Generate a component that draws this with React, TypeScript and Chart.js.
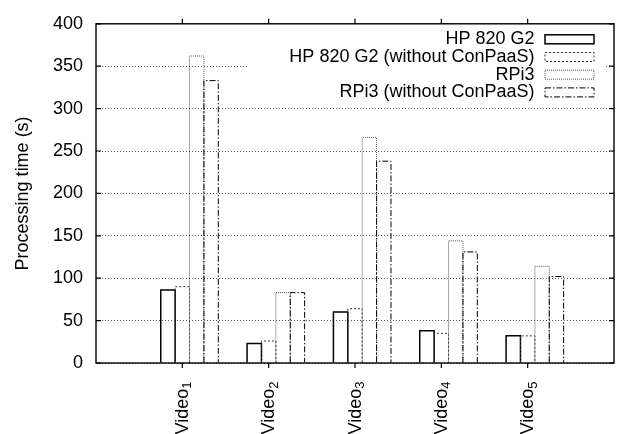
import React, { useEffect, useRef } from 'react';
import { Chart, registerables } from 'chart.js';

Chart.register(...registerables);

const CATEGORIES = ['Video1', 'Video2', 'Video3', 'Video4', 'Video5'];
const SERIES_LABELS = [
  'HP 820 G2',
  'HP 820 G2 (without ConPaaS)',
  'RPi3',
  'RPi3 (without ConPaaS)',
];
const HP_820 = [86, 23, 60, 38, 32];
const HP_820_NO_CONPAAS = [90, 26, 64, 35, 32];
const RPI3 = [362, 83, 266, 144, 114];
const RPI3_NO_CONPAAS = [333, 83, 238, 131, 102];
const Y_TICKS = [0, 50, 100, 150, 200, 250, 300, 350, 400];

const SERIES_VALUES = [HP_820, HP_820_NO_CONPAAS, RPI3, RPI3_NO_CONPAAS];

const FONT_FAMILY = "'Liberation Sans', Arial, Helvetica, sans-serif";
const FONT_SIZE = 18;
const SUB_SIZE = 13;

const SERIES_STYLE = [
  { color: '#000000', width: 1.5, dash: [] as number[] },
  { color: '#333333', width: 1, dash: [2, 2] },
  { color: '#555555', width: 1, dash: [1, 1] },
  { color: '#000000', width: 1, dash: [6, 2, 1.5, 2] },
];

const outlinePlugin = {
  id: 'gnuplotLook',
  beforeDatasetsDraw(chart: any) {
    const ctx = chart.ctx;
    const { right, top } = chart.chartArea;
    ctx.save();
    ctx.font = `${FONT_SIZE}px ${FONT_FAMILY}`;
    let maxW = 0;
    SERIES_LABELS.forEach((l) => {
      maxW = Math.max(maxW, ctx.measureText(l).width);
    });
    const textRight = right - 79.5;
    const bgLeft = textRight - maxW - 42;
    ctx.fillStyle = '#ffffff';
    ctx.fillRect(bgLeft, top + 3, right - 10 - bgLeft, 76);
    ctx.restore();
  },
  afterDatasetsDraw(chart: any) {
    const ctx = chart.ctx;
    const { left, right, top, bottom } = chart.chartArea;
    // bar outlines
    chart.data.datasets.forEach((_ds: any, i: number) => {
      const meta = chart.getDatasetMeta(i);
      const st = SERIES_STYLE[i];
      ctx.save();
      ctx.strokeStyle = st.color;
      ctx.lineWidth = st.width;
      ctx.setLineDash(st.dash);
      meta.data.forEach((el: any) => {
        const p = el.getProps(['x', 'y', 'base', 'width'], true);
        const l = p.x - p.width / 2;
        const r = p.x + p.width / 2;
        ctx.beginPath();
        ctx.moveTo(l, p.base);
        ctx.lineTo(l, p.y);
        ctx.lineTo(r, p.y);
        ctx.lineTo(r, p.base);
        ctx.stroke();
      });
      ctx.restore();
    });

    // legend
    ctx.save();
    ctx.font = `${FONT_SIZE}px ${FONT_FAMILY}`;
    ctx.textAlign = 'right';
    ctx.textBaseline = 'middle';
    const textRight = right - 79.5;
    const boxL = right - 69;
    const boxR = right - 20;
    SERIES_LABELS.forEach((label, i) => {
      const cy = top + 15.5 + i * 17.7;
      ctx.fillStyle = '#000';
      ctx.fillText(label, textRight, cy);
      const st = SERIES_STYLE[i];
      ctx.strokeStyle = st.color;
      ctx.lineWidth = st.width;
      ctx.setLineDash(st.dash);
      ctx.strokeRect(boxL, cy - 4.5, boxR - boxL, 9);
    });
    ctx.restore();

    // frame and tick marks
    ctx.save();
    ctx.strokeStyle = '#000';
    ctx.lineWidth = 1.4;
    ctx.setLineDash([]);
    ctx.strokeRect(left, top, right - left, bottom - top);
    ctx.lineWidth = 1.2;
    const ys = chart.scales.y;
    ys.ticks.forEach((t: any) => {
      const py = ys.getPixelForValue(t.value);
      ctx.beginPath();
      ctx.moveTo(left, py);
      ctx.lineTo(left + 5, py);
      ctx.moveTo(right - 5, py);
      ctx.lineTo(right, py);
      ctx.stroke();
    });
    const xs = chart.scales.x;
    xs.ticks.forEach((t: any, i: number) => {
      const px = xs.getPixelForValue(t.value);
      ctx.beginPath();
      ctx.moveTo(px, bottom);
      ctx.lineTo(px, bottom + 5);
      ctx.moveTo(px, top - 5);
      ctx.lineTo(px, top);
      ctx.stroke();

      // rotated category label with a real subscript
      const label = CATEGORIES[i] ?? '';
      const m = label.match(/^(.*?)(\d+)$/);
      const main = m ? m[1] : label;
      const sub = m ? m[2] : '';
      ctx.save();
      ctx.translate(px, bottom + 18.5);
      ctx.rotate(-Math.PI / 2);
      ctx.fillStyle = '#000';
      ctx.textAlign = 'right';
      ctx.textBaseline = 'alphabetic';
      ctx.font = `${SUB_SIZE}px ${FONT_FAMILY}`;
      const subW = sub ? ctx.measureText(sub).width : 0;
      if (sub) ctx.fillText(sub, 0, 9);
      ctx.font = `${FONT_SIZE}px ${FONT_FAMILY}`;
      ctx.fillText(main, -subW, 5.5);
      ctx.restore();
    });
    ctx.restore();
  },
};

export default function App() {
  const canvasRef = useRef<HTMLCanvasElement | null>(null);

  useEffect(() => {
    if (!canvasRef.current) return;
    Chart.defaults.font.family = FONT_FAMILY;
    Chart.defaults.color = '#000';

    const datasets = SERIES_VALUES.map((vals, j) => ({
      label: SERIES_LABELS[j],
      data: vals.map((v, i) => ({ x: i + 1 + (j - 1) / 6, y: v })),
      backgroundColor: 'rgba(0,0,0,0)',
      borderWidth: 0,
    }));

    const chart = new Chart(canvasRef.current, {
      type: 'bar',
      data: { datasets },
      plugins: [outlinePlugin],
      options: {
        animation: false,
        responsive: false,
        maintainAspectRatio: false,
        layout: { padding: { top: 14, right: 7, left: 0, bottom: 0 } },
        datasets: {
          bar: { grouped: false, barPercentage: 1, categoryPercentage: 1 },
        } as any,
        plugins: {
          legend: { display: false },
          tooltip: { enabled: false },
        },
        scales: {
          x: {
            type: 'linear',
            offset: false,
            min: 0,
            max: 6,
            afterBuildTicks: (s: any) => {
              s.ticks = CATEGORIES.map((_c, i) => ({ value: i + 1 }));
            },
            afterFit: (s: any) => {
              s.height = 71;
            },
            grid: { display: false, drawTicks: false, offset: false },
            border: { display: false },
            ticks: { display: false, autoSkip: false },
          },
          y: {
            min: 0,
            max: 400,
            afterBuildTicks: (s: any) => {
              s.ticks = Y_TICKS.map((v) => ({ value: v }));
            },
            afterFit: (s: any) => {
              s.width = 96;
            },
            grid: { color: '#555', lineWidth: 1, drawTicks: false },
            border: { display: false, dash: [1, 2] },
            ticks: {
              padding: 13,
              color: '#000',
              font: { size: FONT_SIZE },
            },
            title: {
              display: true,
              text: 'Processing time (s)',
              color: '#000',
              font: { size: FONT_SIZE },
              padding: { top: 12, bottom: 0 },
            },
          },
        } as any,
      },
    });
    return () => chart.destroy();
  }, []);

  return (
    <div
      style={{
        position: 'fixed',
        left: 0,
        top: 0,
        width: 621,
        height: 434,
        background: '#fff',
      }}
    >
      <canvas ref={canvasRef} width={621} height={434} style={{ display: 'block' }} />
    </div>
  );
}
